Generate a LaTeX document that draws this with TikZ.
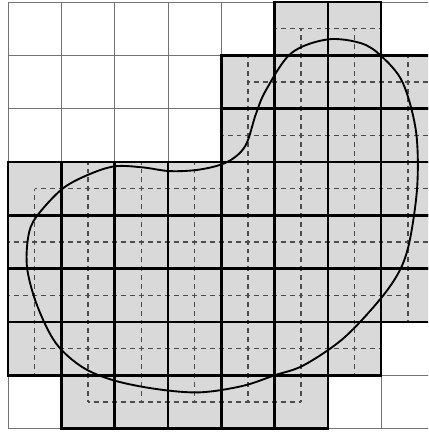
\documentclass[tikz,border=0pt]{standalone}
\usepackage{amsmath}
\usepackage{tikz}

\begin{document}
\begin{tikzpicture}
  \tikzstyle{cellfill}=[fill=black!15]
  \tikzstyle{cellline}=[draw=black,line width=1.4pt]
  \tikzstyle{finegrid}=[draw=black!55,line width=0.4pt]
  \tikzstyle{halfgrid}=[draw=black!70,line width=0.75pt,dash pattern=on 2.6pt off 2.14pt,dash phase=1.3pt]
  \tikzstyle{boundary}=[draw=black,line width=1pt]
  \def\cells{7/5/6,6/4/7,5/4/7,4/0/7,3/0/7,2/0/7,1/0/6,0/1/5}
  \useasboundingbox (-0.15,-0.12) rectangle (7.88,8.04);
  \clip (-0.15,-0.12) rectangle (7.88,8.04);
  \foreach \y/\a/\b in \cells
    \foreach \x in {\a,...,\b}
      \fill[cellfill] (\x,\y) rectangle ++(1,1);
  \draw[finegrid] (0,0) grid (8,8);
  \foreach \y/\a/\b in {7.5/5/7,6.5/4.5/8,5.5/4/8,4.5/0.5/8,3.5/0/8,2.5/0/7.5,1.5/0.5/7,0.5/1.5/5.5}
    \draw[halfgrid] (\a,\y) -- (\b,\y);
  \foreach \x/\a/\b in {0.5/1/4.5,1.5/0.5/5,2.5/0.5/5,3.5/0.5/5,4.5/0.5/7,5.5/0.5/7.5,6.5/1/7.5,7.5/2/7}
    \draw[halfgrid] (\x,\a) -- (\x,\b);
  \foreach \y/\a/\b in \cells
    \foreach \x in {\a,...,\b}
      \draw[cellline] (\x,\y) rectangle ++(1,1);
  \draw[boundary] plot[smooth cycle,tension=0.55] coordinates {
    (0.53,3.97) (1.01,4.49) (1.50,4.76) (2.0,4.92) (2.53,4.90) (3.04,4.83)
    (3.6,4.86) (4.11,5.0) (4.45,5.3) (4.65,5.9) (4.84,6.35) (5.31,7.04)
    (5.99,7.30) (6.62,7.23) (7.0,6.99) (7.40,6.5) (7.65,5.6) (7.68,4.6)
    (7.55,3.6) (7.37,3.01) (7.0,2.45) (6.3,1.7) (5.55,1.19) (5.0,1.0)
    (4.4,0.8) (3.6,0.68) (2.8,0.74) (2.0,0.9) (1.4,1.15) (0.9,1.6)
    (0.55,2.3) (0.36,3.0) (0.38,3.6)};
\end{tikzpicture}
\end{document}
